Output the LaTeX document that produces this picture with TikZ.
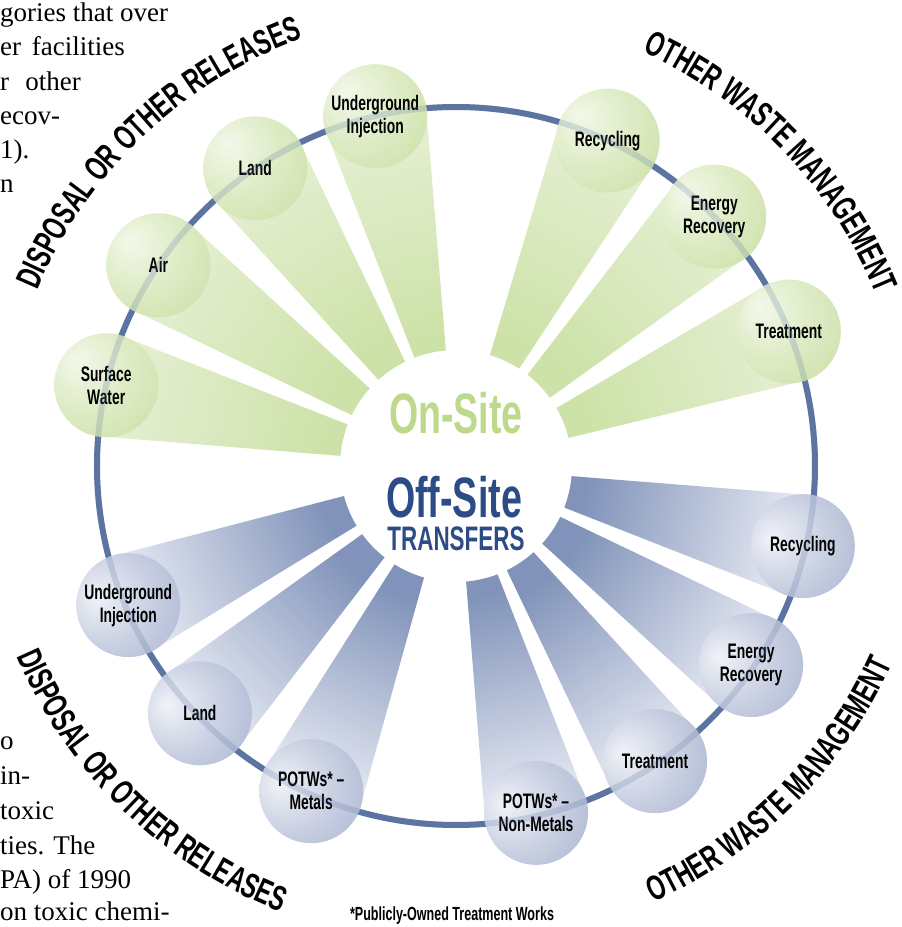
\documentclass[tikz,border=0pt]{standalone}
\usepackage{fontspec}
\usepackage{xcolor}
\usepackage{tikz}
\usetikzlibrary{decorations.text}

\newfontfamily\dinfont[FakeStretch=0.66]{Liberation Sans}
\newfontfamily\bodyfont{Liberation Serif}
\newcommand\catfont{\dinfont\bfseries\fontsize{35}{35}\selectfont}

\definecolor{ringblue}{HTML}{5B74A2}
\definecolor{onsitegreen}{HTML}{BCD98C}
\definecolor{offsiteblue}{HTML}{2D4C86}
\definecolor{gwedgein}{HTML}{CDE2A8}
\definecolor{gwedgeout}{HTML}{E6F0D4}
\definecolor{bwedgein}{HTML}{8193BA}
\definecolor{bwedgeout}{HTML}{EBEEF5}
\definecolor{gballhi}{HTML}{F3F8EA}
\definecolor{gballmid}{HTML}{DDEBC4}
\definecolor{gballrim}{HTML}{C2D995}
\definecolor{bballhi}{HTML}{F0F2F7}
\definecolor{bballmid}{HTML}{C9D0E2}
\definecolor{bballrim}{HTML}{98A6C6}

\pgfdeclareradialshading{greenball}{\pgfpoint{-14bp}{12bp}}{%
  color(0bp)=(gballhi); color(22bp)=(gballmid); color(55bp)=(gballrim); color(75bp)=(gballrim)}
\pgfdeclareradialshading{blueball}{\pgfpoint{-16bp}{4bp}}{%
  color(0bp)=(bballhi); color(22bp)=(bballmid); color(55bp)=(bballrim); color(75bp)=(bballrim)}

\pgfdeclarelayer{ringlayer}
\pgfdeclarelayer{wedgelayer}
\pgfsetlayers{ringlayer,wedgelayer,main}

\tikzset{
  ball/.style={circle, minimum size=104, inner sep=0pt, outer sep=0pt, shade,
    align=center, font=\dinfont\bfseries\fontsize{21}{23}\selectfont},
  onball/.style={ball, shading=greenball},
  offball/.style={ball, shading=blueball},
  onwedge/.style={top color=gwedgeout, bottom color=gwedgein},
  offwedge/.style={top color=bwedgeout, bottom color=bwedgein},
  ring/.style={draw=ringblue, line width=6pt},
  bodytext/.style={anchor=base west, inner sep=0pt, font=\bodyfont\fontsize{27}{27}\selectfont},
  arclabel/.style={decorate, decoration={text along path, text align=center, text={|\catfont|#1}}}
}

\begin{document}
\begin{tikzpicture}[x=1pt,y=1pt]
\clip (-456,-461) rectangle (446,466);
\node[circle, minimum size=232, inner sep=0pt, outer sep=0pt] (hub) at (0,0) {};

\foreach \a/\n/\t in {167/on1/{Surface\\Water}, 146/on2/Air, 124/on3/Land, 103/on4/{Underground\\Injection},
                      65/on5/Recycling, 44/on6/{Energy\\Recovery}, 22/on7/Treatment}
  \node[onball] (\n) at (\a:359) {\t};
\foreach \a/\n/\t in {-13/off1/Recycling, -34/off2/{Energy\\Recovery}, -56/off3/Treatment, -77/off4/{POTWs* –\\Non-Metals},
                      -114/off5/{POTWs* –\\Metals}, -136/off6/Land, -157/off7/{Underground\\Injection}}
  \node[offball] (\n) at (\a:356) {\t};

\begin{pgfonlayer}{wedgelayer}
\foreach \a/\n [evaluate=\a as \lo using int(\a-8), evaluate=\a as \hi using int(\a+8),
                evaluate=\a as \sa using int(\a-90), evaluate=\a as \up using int(\a+90)]
    in {167/on1, 146/on2, 124/on3, 103/on4, 65/on5, 44/on6, 22/on7}
  \path[onwedge, shading angle=\sa] (hub.\lo) arc[start angle=\lo, end angle=\hi, radius=116] -- (\n.\up) -- (\n.\sa) -- cycle;
\foreach \a/\n [evaluate=\a as \lo using int(\a-8), evaluate=\a as \hi using int(\a+8),
                evaluate=\a as \sa using int(\a-90), evaluate=\a as \up using int(\a+90)]
    in {-13/off1, -34/off2, -56/off3, -77/off4, -114/off5, -136/off6, -157/off7}
  \path[offwedge, shading angle=\sa] (hub.\lo) arc[start angle=\lo, end angle=\hi, radius=116] -- (\n.\up) -- (\n.\sa) -- cycle;
\end{pgfonlayer}

\begin{pgfonlayer}{ringlayer}
\draw[ring] (hub.center) circle[radius=359];
\end{pgfonlayer}
\draw[ring, draw opacity=0.22] (hub.center) circle[radius=359];

\node[inner sep=0pt, text=onsitegreen, font=\dinfont\bfseries\fontsize{57}{57}\selectfont] (onsite) at (0,53) {On-Site};
\node[inner sep=0pt, text=offsiteblue, font=\dinfont\bfseries\fontsize{57}{57}\selectfont] (offsite) at (-2,-31) {Off-Site};
\node[inner sep=0pt, text=offsiteblue, font=\dinfont\bfseries\fontsize{34}{34}\selectfont] (transfers) at (0,-73) {TRANSFERS};

\path[arclabel={DISPOSAL OR OTHER RELEASES}] (161:454) arc[start angle=161, end angle=106, radius=454];
\path[arclabel={OTHER WASTE MANAGEMENT}] (71:454) arc[start angle=71, end angle=17, radius=454];
\path[arclabel={DISPOSAL OR OTHER RELEASES}] (198:479) arc[start angle=198, end angle=254, radius=479];
\path[arclabel={OTHER WASTE MANAGEMENT}] (-72:479) arc[start angle=-72, end angle=-18, radius=479];

\node[inner sep=0pt, font=\dinfont\bfseries\fontsize{19}{19}\selectfont] (note) at (-4,-450) {*Publicly-Owned Treatment Works};

\node[bodytext] (ta) at (-456,444) {gories that over};
\node[bodytext] (tb) at (-456,410) {er\hspace{0.4em}facilities};
\node[bodytext] (tc) at (-456,375) {r\hspace{0.6em}other};
\node[bodytext] (td) at (-456,341) {ecov-};
\node[bodytext] (te) at (-456,307) {1).};
\node[bodytext] (tf) at (-456,273) {n};
\node[bodytext] (tg) at (-456,-283) {o};
\node[bodytext] (th) at (-456,-318) {in-};
\node[bodytext] (ti) at (-456,-353) {toxic};
\node[bodytext] (tj) at (-456,-388) {ties. The};
\node[bodytext] (tk) at (-456,-422) {PA) of 1990};
\node[bodytext] (tl) at (-456,-454) {on toxic chemi-};
\end{tikzpicture}
\end{document}
